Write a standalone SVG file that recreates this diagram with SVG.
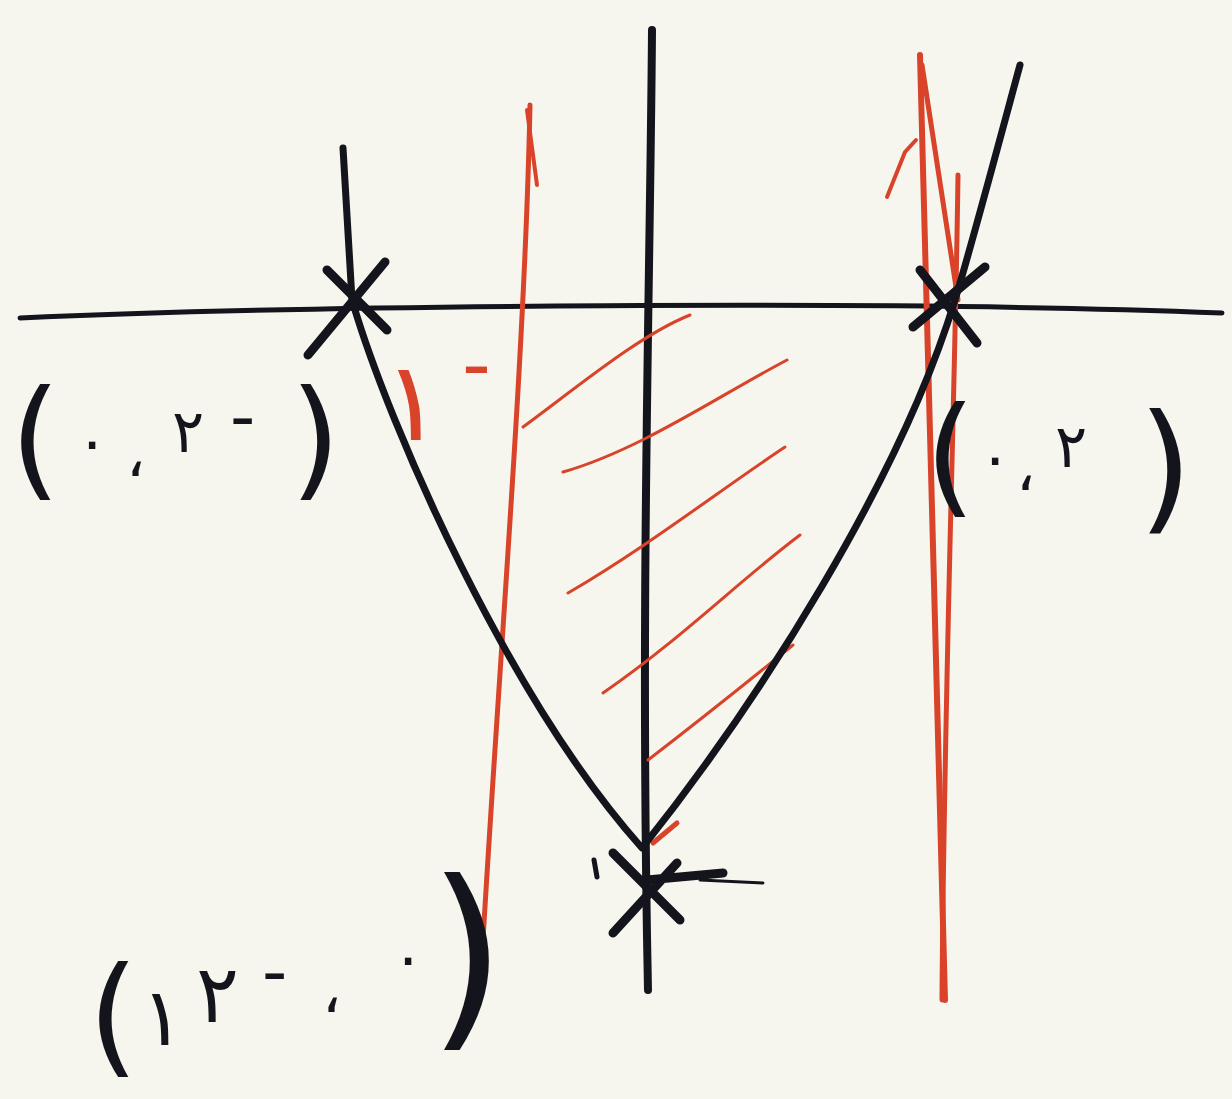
<svg xmlns="http://www.w3.org/2000/svg" width="1232" height="1099" viewBox="0 0 1232 1099">
<style>
.ink{fill:none;stroke:#14141c;stroke-linecap:round;stroke-linejoin:round}
.red{fill:none;stroke:#d8432a;stroke-linecap:round;stroke-linejoin:round}
.lbl{font-family:"DejaVu Sans",sans-serif;fill:#14141c;direction:ltr;unicode-bidi:bidi-override}
.rlbl{font-family:"DejaVu Sans",sans-serif;fill:#d8432a;direction:ltr;unicode-bidi:bidi-override}
</style>
<rect width="1232" height="1099" fill="#f6f6ee"/>
<g id="axes">
<path class="ink" stroke-width="5" d="M20,318 C300,305 900,300 1222,313"/>
<path class="ink" stroke-width="8" d="M652,30 C650,300 640,600 648,990"/>
</g>
<g id="red-lines">
<path class="red" stroke-width="5" d="M530,105 C525,350 500,650 483,940"/>
<path class="red" stroke-width="4" d="M527,110 L537,185"/>
<path class="red" stroke-width="6" d="M920,55 C925,300 935,600 945,1000"/>
<path class="red" stroke-width="5" d="M922,65 L958,300"/>
<path class="red" stroke-width="5" d="M958,175 C955,400 944,700 942,1000"/>
<path class="red" stroke-width="4" d="M887,197 L905,152 L916,140"/>
</g>
<g id="hatching">
<path class="red" stroke-width="3" d="M523,427 C580,385 640,335 690,315"/>
<path class="red" stroke-width="3" d="M563,472 C640,450 720,395 787,360"/>
<path class="red" stroke-width="3" d="M568,593 C650,545 720,490 785,447"/>
<path class="red" stroke-width="3" d="M603,693 C680,640 740,580 800,535"/>
<path class="red" stroke-width="3" d="M648,760 C700,720 750,680 793,645"/>
<path class="red" stroke-width="5" d="M653,843 L677,823"/>
</g>
<g id="parabola">
<path class="ink" stroke-width="7" d="M343,148 L352,300 C390,430 510,700 642,848 C760,700 900,480 955,300 C972,244 1005,120 1020,65"/>
</g>
<g id="point-left">
<path class="ink" stroke-width="9" d="M327,270 L387,330 M385,262 L308,355"/>
</g>
<g id="point-right">
<path class="ink" stroke-width="9" d="M920,270 L977,343 M985,267 L913,327"/>
</g>
<g id="point-bottom">
<path class="ink" stroke-width="9" d="M613,853 L680,920 M613,933 L677,863 M647,880 L723,873"/>
<path class="ink" stroke-width="3" d="M700,880 L763,883"/>
<path class="ink" stroke-width="5" d="M594,860 L597,877"/>
</g>
<g id="labels">
<text class="lbl"><tspan x="10" y="483" font-size="130">(</tspan><tspan x="76" y="462" font-size="60">٠</tspan><tspan x="126" y="476" font-size="60">،</tspan><tspan x="172" y="452" font-size="60">٢</tspan><tspan x="230" y="440" font-size="70">-</tspan><tspan x="290" y="483" font-size="130">)</tspan></text>
<text class="lbl"><tspan x="925" y="500" font-size="130">(</tspan><tspan x="979" y="478" font-size="60">٠</tspan><tspan x="1016" y="490" font-size="60">،</tspan><tspan x="1055" y="467" font-size="60">٢</tspan><tspan x="1138" y="515" font-size="140">)</tspan></text>
<text class="lbl"><tspan x="88" y="1060" font-size="130">(</tspan><tspan x="141" y="1045" font-size="80">١</tspan><tspan x="196" y="1022" font-size="80">٢</tspan><tspan x="262" y="995" font-size="70">-</tspan><tspan x="322" y="1012" font-size="60">،</tspan><tspan x="392" y="978" font-size="60">٠</tspan><tspan x="428" y="1024" font-size="200">)</tspan></text>
<text class="rlbl"><tspan x="383" y="440" font-size="110">١</tspan><tspan x="462" y="392" font-size="80">-</tspan></text>
</g>
</svg>
